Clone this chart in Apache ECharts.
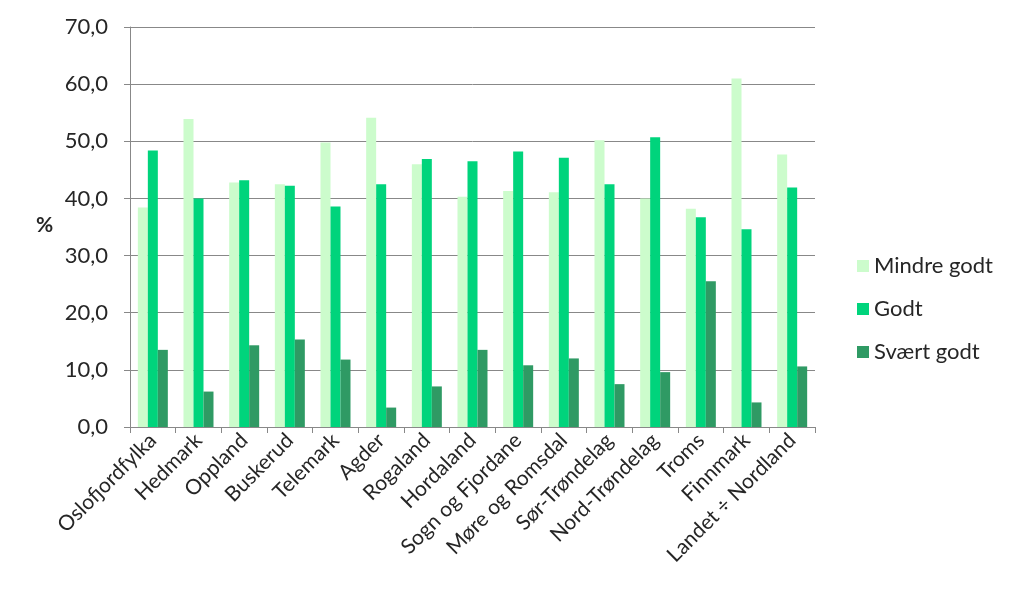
<!DOCTYPE html>
<html><head><meta charset="utf-8">
<script src="https://cdn.jsdelivr.net/npm/echarts@6/dist/echarts.min.js"></script>
<style>html,body{margin:0;padding:0;background:#fff}#c{width:1023px;height:610px}</style>
</head><body><div id="c"></div>
<script>
const categories = ["Oslofjordfylka","Hedmark","Oppland","Buskerud","Telemark","Agder","Rogaland","Hordaland","Sogn og Fjordane","Møre og Romsdal","Sør-Trøndelag","Nord-Trøndelag","Troms","Finnmark","Landet ÷ Nordland"];
const mindreGodt = [38.4,53.9,42.8,42.5,49.8,54.1,46.0,40.3,41.3,41.1,50.2,40.0,38.2,61.0,47.7];
const godt = [48.4,40.0,43.2,42.2,38.6,42.5,46.9,46.5,48.2,47.1,42.5,50.7,36.7,34.6,41.9];
const svaertGodt = [13.5,6.2,14.3,15.3,11.8,3.4,7.1,13.5,10.8,12.0,7.5,9.6,25.5,4.3,10.6];
const seriesNames = ["Mindre godt","Godt","Svært godt"];
const colors = ["#ccfccc","#00d47c","#2f9a64"];
const font = "Lato, 'Open Sans', sans-serif";
const chart = echarts.init(document.getElementById('c'));
const mk = (name, data, color) => ({name, type:'bar', data, barWidth:10, barGap:'0%', itemStyle:{color}});
chart.setOption({
  animation:false,
  grid:{left:130,right:208,top:27,bottom:183},
  legend:{orient:'vertical',left:852,top:250,itemWidth:12,itemHeight:12,itemGap:21,icon:'rect',
    textStyle:{fontSize:22,color:'#262626',fontFamily:font},data:seriesNames},
  xAxis:{type:'category',data:categories,
    axisLine:{lineStyle:{color:'#888',width:1}},
    axisTick:{show:true,length:6,lineStyle:{color:'#888'}},
    axisLabel:{rotate:45,fontSize:21,color:'#262626',fontFamily:font,interval:0,margin:10}},
  yAxis:{type:'value',min:0,max:70,interval:10,
    axisLine:{show:true,lineStyle:{color:'#888'}},
    axisTick:{show:true,length:6,inside:false,lineStyle:{color:'#888'}},
    splitLine:{lineStyle:{color:'#888',width:1}},
    axisLabel:{fontSize:22,color:'#262626',fontFamily:font,margin:22,formatter:v=>v.toFixed(1).replace('.',',')}},
  graphic:[{type:'text',left:36,top:215,style:{text:'%',fontSize:21,fontWeight:'bold',fill:'#262626',fontFamily:font}}],
  series:[mk(seriesNames[0],mindreGodt,colors[0]),mk(seriesNames[1],godt,colors[1]),mk(seriesNames[2],svaertGodt,colors[2])]
});
</script></body></html>
